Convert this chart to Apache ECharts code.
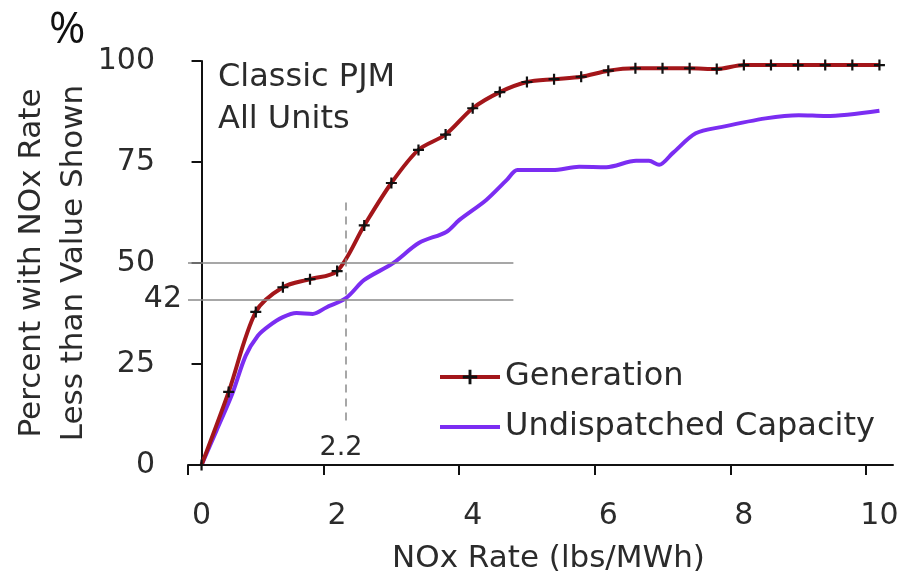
<!DOCTYPE html>
<html>
<head>
<meta charset="utf-8">
<script src="https://cdn.jsdelivr.net/npm/echarts@6/dist/echarts.min.js"></script>
<style>
  html, body { margin: 0; padding: 0; background: #fff; }
  #chart { width: 900px; height: 582px; }
</style>
</head>
<body>
<div id="chart"></div>
<script>
// ---- data ----
const genX = [0, 0.4, 0.8, 1.2, 1.6, 2.0, 2.4, 2.8, 3.2, 3.6, 4.0, 4.4, 4.8, 5.2, 5.6, 6.0, 6.4, 6.8, 7.2, 7.6, 8.0, 8.4, 8.8, 9.2, 9.6, 10.0];
const genY = [0, 18.1, 37.9, 44.0, 46.0, 48.0, 59.3, 69.8, 78.0, 81.8, 88.3, 92.3, 94.8, 95.5, 96.1, 97.6, 98.2, 98.2, 98.2, 98.0, 99.0, 99.0, 99.0, 99.0, 99.0, 99.0];
const capX = [0, 0.22, 0.45, 0.65, 0.83, 1.0, 1.2, 1.4, 1.64, 1.84, 2.13, 2.4, 2.82, 3.21, 3.61, 3.8, 4.2, 4.5, 4.66, 5.18, 5.57, 5.97, 6.41, 6.6, 6.75, 6.95, 7.29, 7.68, 8.32, 8.81, 9.21, 10.0];
const capY = [0, 8.5, 17.5, 27.0, 32.0, 34.5, 36.6, 37.6, 37.4, 39.0, 41.3, 45.8, 49.9, 55.0, 57.7, 60.6, 65.6, 70.5, 73.0, 73.0, 73.8, 73.7, 75.3, 75.3, 74.3, 77.2, 82.1, 83.7, 85.8, 86.6, 86.4, 87.7];
const seriesNames = ['Generation', 'Undispatched Capacity'];
const xLabelValues = [0, 2, 4, 6, 8, 10];
const xTickValues = [-0.2, 1.8, 3.8, 5.8, 7.8, 9.8];
const refLevels = [50, 41];       // horizontal reference lines (drawn positions)
const refLevelText = ['', '42'];
const refX = 2.13;                // vertical dashed reference line (drawn position)
const refXText = '2.2';
const refLineEndX = 4.6;
const refXSpan = [11, 65];

const FONT = 'DejaVu Sans';
const TXT = '#2b2b2b';
const RED = '#a3161a';
const PURPLE = '#7b2df2';

const chart = echarts.init(document.getElementById('chart'), null, { renderer: 'canvas' });

const pairs = (xs, ys) => xs.map((x, i) => [x, ys[i]]);

const markLineData = refLevels.map((lv, i) => [
  {
    coord: [-0.2, lv],
    label: refLevelText[i] ? {
      show: true, position: 'start', formatter: refLevelText[i],
      fontSize: 30, fontFamily: FONT, color: TXT, distance: 6
    } : { show: false }
  },
  { coord: [refLineEndX, lv] }
]);
markLineData.push([
  {
    coord: [refX, refXSpan[0]],
    lineStyle: { type: [8, 6], color: '#8a8a8a', width: 1.5 },
    label: { show: true, position: 'start', formatter: refXText, fontSize: 27, fontFamily: FONT, color: TXT, distance: 14, padding: [0, 10, 0, 0] }
  },
  { coord: [refX, refXSpan[1]] }
]);

const option = {
  animation: false,
  backgroundColor: '#ffffff',
  grid: { left: 188, right: 7, top: 61, bottom: 117, containLabel: false, outerBoundsMode: 'none' },
  xAxis: {
    type: 'value',
    min: -0.2, max: 10.2,
    name: 'NOx Rate (lbs/MWh)',
    nameLocation: 'middle',
    nameGap: 78,
    nameMoveOverlap: false,
    nameTextStyle: { fontSize: 31, fontFamily: FONT, color: TXT, padding: [0, 0, 0, 16] },
    splitLine: { show: false },
    axisLine: { show: true, lineStyle: { color: '#111', width: 2 } },
    axisTick: { show: true, inside: false, length: 10, lineStyle: { color: '#111', width: 2 }, customValues: xTickValues },
    axisLabel: { show: true, customValues: xLabelValues, fontSize: 30, fontFamily: FONT, color: TXT, margin: 36 }
  },
  yAxis: {
    type: 'value',
    min: 0, max: 100, interval: 25,
    name: 'Percent with NOx Rate\nLess than Value Shown',
    nameLocation: 'middle',
    nameRotate: 90,
    nameGap: 93,
    nameMoveOverlap: false,
    nameTextStyle: { fontSize: 31, fontFamily: FONT, color: TXT, lineHeight: 42 },
    splitLine: { show: false },
    axisLine: { show: true, lineStyle: { color: '#111', width: 2 } },
    axisTick: { show: true, inside: false, length: 10, lineStyle: { color: '#111', width: 2 } },
    axisLabel: { fontSize: 30, fontFamily: FONT, color: TXT, margin: 33 }
  },
  legend: {
    data: [
      { name: seriesNames[0], lineStyle: { width: 4, color: RED } },
      { name: seriesNames[1], lineStyle: { width: 4, color: PURPLE }, itemStyle: { opacity: 0 } }
    ],
    orient: 'vertical',
    left: 433, top: 356,
    itemWidth: 60, itemHeight: 18, itemGap: 18,
    textStyle: { fontSize: 32, fontFamily: FONT, color: TXT, padding: [0, 0, 0, 0] }
  },
  graphic: [
    { type: 'text', left: 49, top: 8, style: { text: '%', font: '44px "Open Sans"', fill: '#111' } },
    { type: 'text', left: 218, top: 57, style: { text: 'Classic PJM\nAll Units', font: '32px "DejaVu Sans"', lineHeight: 42, fill: TXT } }
  ],
  series: [
    {
      name: seriesNames[0],
      type: 'line',
      data: pairs(genX, genY),
      smooth: 0.3,
      symbol: 'path://M4,0 H6 V4 H10 V6 H6 V10 H4 V6 H0 V4 H4 Z',
      symbolSize: 11,
      showAllSymbol: true,
      itemStyle: { color: '#111111' },
      lineStyle: { color: RED, width: 4 },
      z: 3
    },
    {
      name: seriesNames[1],
      type: 'line',
      data: pairs(capX, capY),
      smooth: 0.3,
      symbol: 'none',
      itemStyle: { color: PURPLE },
      lineStyle: { color: PURPLE, width: 4 },
      z: 2,
      markLine: {
        silent: true,
        symbol: ['none', 'none'],
        animation: false,
        lineStyle: { type: 'solid', color: '#8a8a8a', width: 1.5 },
        label: { show: false },
        data: markLineData
      }
    }
  ]
};

chart.setOption(option);
</script>
</body>
</html>
